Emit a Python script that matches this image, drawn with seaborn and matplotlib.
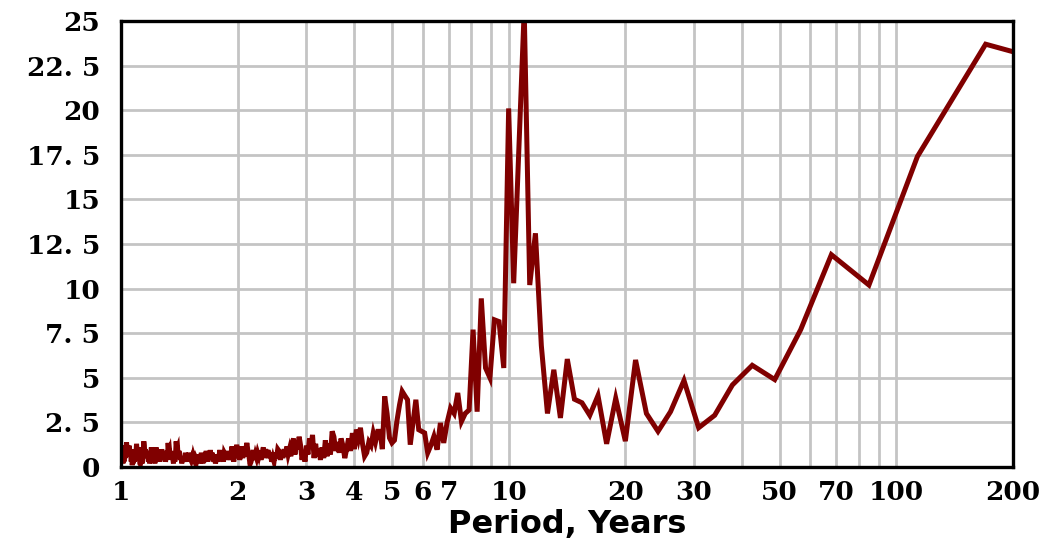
import numpy as np
import pandas as pd
import matplotlib
matplotlib.use("Agg")
import matplotlib.pyplot as plt
from matplotlib.ticker import NullLocator
import seaborn as sns

# Periodogram of a 340-year record: harmonic k -> period 340/k years
record_length_years = 340

# spectral power, harmonic k = 1 .. 50
power_k001_050 = [21.9, 23.7, 17.4, 10.2, 11.9, 7.7, 4.9, 5.7, 4.6, 2.9,
                  2.2, 4.85, 3.1, 2.0, 3.0, 6.0, 1.45, 3.85, 1.3, 4.0,
                  2.9, 3.6, 3.8, 6.05, 2.75, 5.45, 3.0, 6.8, 13.1, 10.2,
                  25.6, 17.8, 10.3, 20.1, 5.55, 8.15, 8.25, 5.0, 5.55, 9.45,
                  3.1, 7.7, 3.2, 3.0, 2.55, 4.15, 3.0, 3.3, 2.5, 1.35]
# k = 51 .. 120
power_k051_120 = [2.47, 0.97, 1.72, 1.2, 0.79, 1.91, 2.0, 2.09, 3.77, 2.5,
                  1.25, 3.77, 4.0, 4.24, 3.49, 2.6, 1.5, 1.35, 1.63, 3.0,
                  3.96, 1.0, 2.0, 2.0, 1.4, 1.9, 1.2, 1.4, 0.8, 0.6,
                  1.3, 2.2, 1.6, 2.1, 1.0, 1.9, 0.9, 1.6, 1.0, 0.5,
                  1.2, 1.6, 0.8, 1.4, 0.9, 1.7, 2.0, 0.7, 1.3, 0.6,
                  1.5, 0.5, 1.1, 0.4, 1.0, 0.6, 1.3, 0.5, 1.8, 1.1,
                  1.6, 0.7, 1.2, 0.3, 0.9, 0.4, 1.2, 1.7, 1.0, 1.4]
# k = 121 .. 230
power_k121_230 = [0.7, 1.6, 1.3, 0.6, 1.0, 0.7, 1.15, 0.6, 1.0, 0.5,
                  0.85, 0.4, 0.9, 1.0, 0.5, 0.8, 0.3, 0.55, 0.3, 0.8,
                  0.5, 0.95, 0.6, 1.0, 0.5, 1.1, 0.8, 0.4, 0.9, 0.6,
                  0.8, 0.5, 0.7, 0.4, 0.95, 0.6, 0.3, 0.15, 0.6, 0.9,
                  1.35, 1.0, 0.6, 0.9, 0.5, 1.15, 0.7, 0.4, 0.9, 0.6,
                  1.25, 0.5, 0.9, 0.3, 0.7, 1.15, 0.6, 0.4, 0.8, 0.5,
                  0.9, 0.4, 0.7, 0.8, 0.3, 0.6, 0.9, 0.5, 0.95, 0.6,
                  0.3, 0.7, 0.4, 0.2, 0.5, 0.3, 0.6, 0.8, 0.5, 0.95,
                  0.4, 0.7, 0.3, 0.6, 0.9, 0.5, 0.3, 0.6, 0.2, 0.5,
                  0.8, 0.4, 0.2, 0.5, 0.3, 0.7, 0.4, 0.5, 0.3, 0.45,
                  0.6, 0.3, 0.5, 0.35, 0.45, 0.6, 0.8, 0.4, 0.6, 0.3]
# k = 231 .. 340
power_k231_340 = [0.5, 0.8, 0.4, 0.6, 0.3, 0.5, 0.2, 0.6, 0.4, 0.7,
                  0.9, 0.5, 1.1, 1.0, 1.44, 0.6, 0.3, 0.6, 0.2, 0.5,
                  0.7, 0.4, 0.9, 0.6, 1.0, 0.9, 1.35, 0.4, 0.8, 0.5,
                  0.3, 0.6, 0.9, 0.5, 0.8, 0.6, 1.0, 0.4, 0.7, 0.3,
                  0.6, 0.9, 0.5, 0.8, 0.6, 1.1, 0.6, 0.2, 0.5, 0.3,
                  0.7, 0.4, 0.9, 1.1, 0.6, 0.4, 0.2, 0.6, 0.3, 0.8,
                  0.5, 0.9, 0.6, 1.0, 0.7, 1.2, 1.44, 0.8, 0.4, 0.2,
                  0.5, 0.3, 0.15, 0.2, 0.6, 0.9, 1.1, 0.6, 0.9, 1.3,
                  0.8, 1.0, 0.5, 0.3, 0.6, 0.2, 0.4, 0.1, 0.5, 0.3,
                  0.7, 1.0, 0.6, 1.2, 0.8, 1.1, 0.7, 1.0, 1.38, 0.9,
                  0.5, 1.2, 0.8, 0.3, 0.6, 0.2, 0.5, 1.1, 0.4, 0.8]

x_ticks = [1, 2, 3, 4, 5, 6, 7, 8, 9, 10, 20, 30, 40, 50, 60, 70, 80, 90, 100, 200]
x_tick_labels = ["1", "2", "3", "4", "5", "6", "7", "", "", "10",
                 "20", "30", "", "50", "", "70", "", "", "100", "200"]
y_ticks = [0, 2.5, 5, 7.5, 10, 12.5, 15, 17.5, 20, 22.5, 25]
y_tick_labels = ["0", "2. 5", "5", "7. 5", "10", "12. 5", "15", "17. 5", "20", "22. 5", "25"]

power = np.array(power_k001_050 + power_k051_120 + power_k121_230 + power_k231_340)
harmonic = np.arange(1, len(power) + 1)
period = record_length_years / harmonic
df = pd.DataFrame({"Period": period, "Power": power})

sns.set_style("white")
fig = plt.figure(figsize=(10.52, 5.42), dpi=100)
ax = fig.add_axes([121 / 1052, 1 - 467 / 542, (1013 - 121) / 1052, (467 - 21) / 542])

sns.lineplot(data=df, x="Period", y="Power", ax=ax, color="#800000",
             linewidth=3.6, estimator=None, sort=True)
for ln in ax.get_lines():
    ln.set_solid_joinstyle("miter")

ax.set_xscale("log")
ax.set_xlim(1, 200)
ax.set_ylim(0, 25)
ax.set_xticks(x_ticks)
ax.set_xticklabels(x_tick_labels)
ax.xaxis.set_minor_locator(NullLocator())
ax.set_yticks(y_ticks)
ax.set_yticklabels(y_tick_labels)

ax.grid(True, which="major", color="#c4c4c4", linewidth=2.0)
ax.set_axisbelow(True)
for s in ax.spines.values():
    s.set_visible(True)
    s.set_color("black")
    s.set_linewidth(2.4)

for lab in ax.get_xticklabels() + ax.get_yticklabels():
    lab.set_fontfamily("DejaVu Serif")
    lab.set_fontweight("bold")
    lab.set_fontsize(19)
    lab.set_color("black")
ax.tick_params(axis="both", length=0)
ax.tick_params(axis="x", pad=9)
ax.tick_params(axis="y", pad=15)

ax.set_xlabel("Period, Years", fontfamily="DejaVu Sans", fontweight="bold",
              fontsize=23, labelpad=3, color="black")
ax.set_ylabel("")

fig.savefig("out.png", dpi=100)
